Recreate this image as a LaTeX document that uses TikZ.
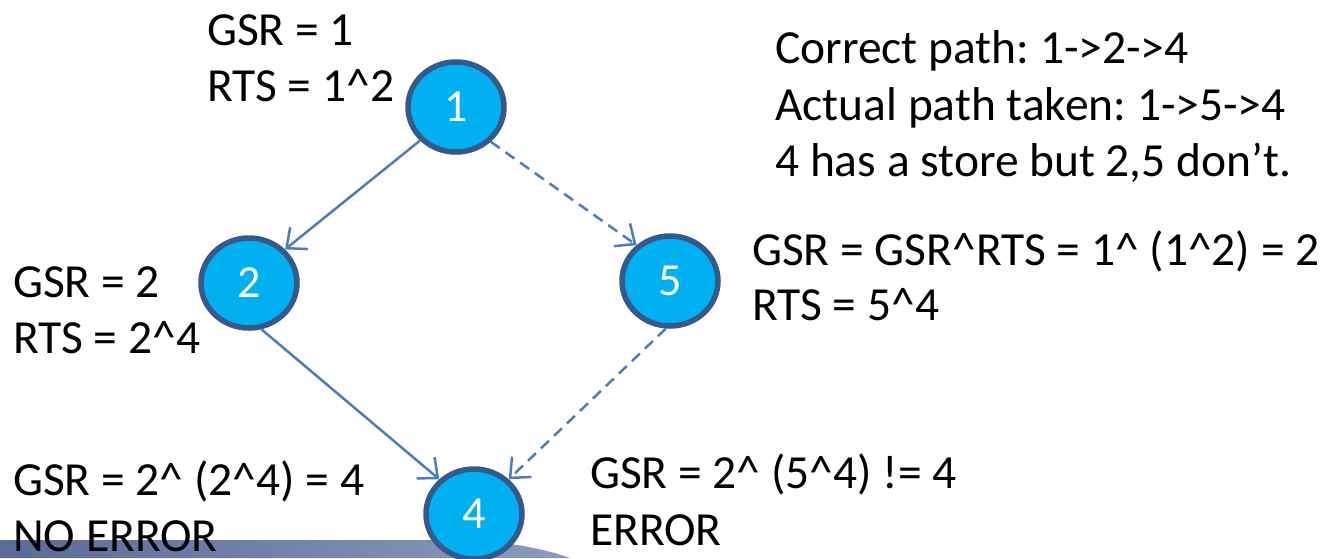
\documentclass[tikz,border=0pt]{standalone}
\usepackage{fontspec}
\setmainfont{Carlito}
\usetikzlibrary{arrows.meta,shapes.geometric}
\definecolor{nodefill}{HTML}{00B0F0}
\definecolor{nodeline}{HTML}{35598A}
\definecolor{edgecol}{HTML}{4A7EBB}
\definecolor{barleft}{HTML}{5A6B99}
\definecolor{barright}{HTML}{8C9ABD}
\tikzset{
  vertex/.style={ellipse, draw=nodeline, line width=5.5pt, fill=nodefill,
    minimum width=96pt, minimum height=90pt, inner sep=0pt,
    text=white, font=\fontsize{46}{54}\selectfont},
  lbl/.style={anchor=base west, inner sep=0pt, text=black,
    font=\fontsize{47.5}{56}\selectfont},
  edge/.style={draw=edgecol, line width=2.5pt,
    -{Straight Barb[length=16pt,width=28pt,line width=2.5pt]}},
  dashededge/.style={edge, dash pattern=on 11pt off 7pt}
}
\begin{document}
\frenchspacing
\begin{tikzpicture}[x=1pt,y=-1pt]
\useasboundingbox (0,0) rectangle (1337,558);
% footer band
\shade[left color=barleft, right color=barright]
  (0,540) -- (450,540) .. controls (505,540) and (545,549) .. (570,558) -- (0,558) -- cycle;
% nodes
\node[vertex] (n1) at (456,107) {1};
\node[vertex] (n2) at (249,283) {2};
\node[vertex] (n5) at (670,281) {5};
\node[vertex] (n4) at (474,514) {4};
% edges
\draw[edge] (n1.-137) -- (n2.43);
\draw[dashededge] (n1.-45) -- (n5.133);
\draw[edge] (n2.-75) -- (n4.135);
\draw[dashededge] (n5.-95) -- (n4.45);
% labels
\node[lbl] (t1a) at (207,45) {GSR = 1};
\node[lbl] (t1b) at (207,101) {RTS = 1\textasciicircum 2};
\node[lbl] (c1) at (775,63) {Correct path: 1->2->4};
\node[lbl] (c2) at (775,120) {Actual path taken: 1->5->4};
\node[lbl] (c3) at (775,176) {4 has a store but 2,5 don’t.};
\node[lbl] (t2a) at (13,297) {GSR = 2};
\node[lbl] (t2b) at (13,353) {RTS = 2\textasciicircum 4};
\node[lbl] (t5a) at (752,265) {GSR = GSR\textasciicircum RTS = 1\textasciicircum\ (1\textasciicircum 2) = 2};
\node[lbl] (t5b) at (752,320) {RTS = 5\textasciicircum 4};
\node[lbl] (t4a) at (13,495) {GSR = 2\textasciicircum\ (2\textasciicircum 4) = 4};
\node[lbl] (t4b) at (13,551) {NO ERROR};
\node[lbl] (t4c) at (590,488) {GSR = 2\textasciicircum\ (5\textasciicircum 4) != 4};
\node[lbl] (t4d) at (590,545) {ERROR};
\end{tikzpicture}
\end{document}
